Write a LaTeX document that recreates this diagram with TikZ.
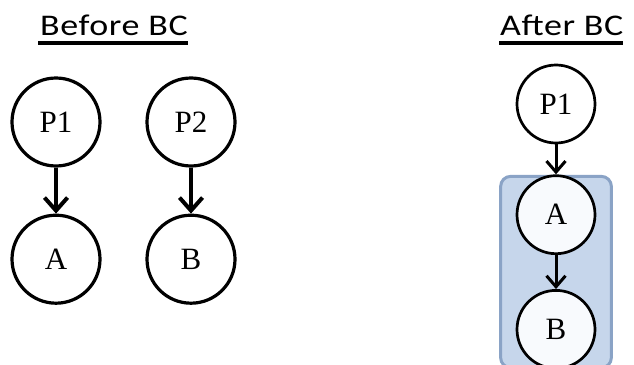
\documentclass[tikz,border=0pt]{standalone}
\usepackage{fontspec}
\setmainfont{Liberation Serif}
\newfontfamily\headfont[FakeStretch=1.2,LetterSpace=2]{Carlito}
\usepackage{tikz}
\usetikzlibrary{arrows.meta,positioning,calc,fit,backgrounds}
\definecolor{groupfill}{RGB}{198,214,235}
\definecolor{groupline}{RGB}{138,163,198}
\definecolor{nodefill}{RGB}{248,250,253}

\begin{document}
\begin{tikzpicture}[
    x=1pt, y=-1pt,
    font=\fontsize{31}{34}\selectfont,
    var/.style={circle, draw, line width=3.2pt, minimum size=88pt, inner sep=0pt, fill=white},
    smallvar/.style={var, line width=2.7pt, minimum size=78pt},
    arrow/.style={-{Straight Barb[length=13pt,width=23pt]}, line width=4pt},
    smallarrow/.style={-{Straight Barb[length=11pt,width=19pt]}, line width=3pt},
    heading/.style={font=\headfont\fontsize{30}{34}\selectfont, inner sep=0pt, anchor=base west},
    group/.style={draw=groupline, fill=groupfill, line width=3pt, rounded corners=10pt, inner xsep=15pt, inner ysep=-2pt}
]
    \useasboundingbox (0,0) rectangle (634,364);

    % before
    \node[heading] (before) at (40,35) {Before BC};
    \draw[line width=3.3pt] ($(before.base west)+(-2,8)$) -- ($(before.base east)+(0,8)$);

    \node[var] (p1) at (56,122) {P1};
    \node[var, below=46pt of p1] (a) {A};
    \node[var] (p2) at (191,122) {P2};
    \node[var, below=46pt of p2] (b) {B};

    \draw[arrow] (p1) -- (a);
    \draw[arrow] (p2) -- (b);

    % after
    \node[heading] (after) at (500,35) {After BC};
    \draw[line width=3.3pt] ($(after.base west)+(-1,8)$) -- ($(after.base east)+(0,8)$);

    \node[smallvar] (p1b) at (556,104) {P1};
    \node[smallvar, fill=nodefill, below=30pt of p1b] (ab) {A};
    \node[smallvar, fill=nodefill, below=34pt of ab] (bb) {B};

    \begin{scope}[on background layer]
        \node[group, fit=(ab)(bb)] (merged) {};
    \end{scope}

    \draw[smallarrow] (p1b) -- (ab);
    \draw[smallarrow] (ab) -- (bb);
\end{tikzpicture}
\end{document}
